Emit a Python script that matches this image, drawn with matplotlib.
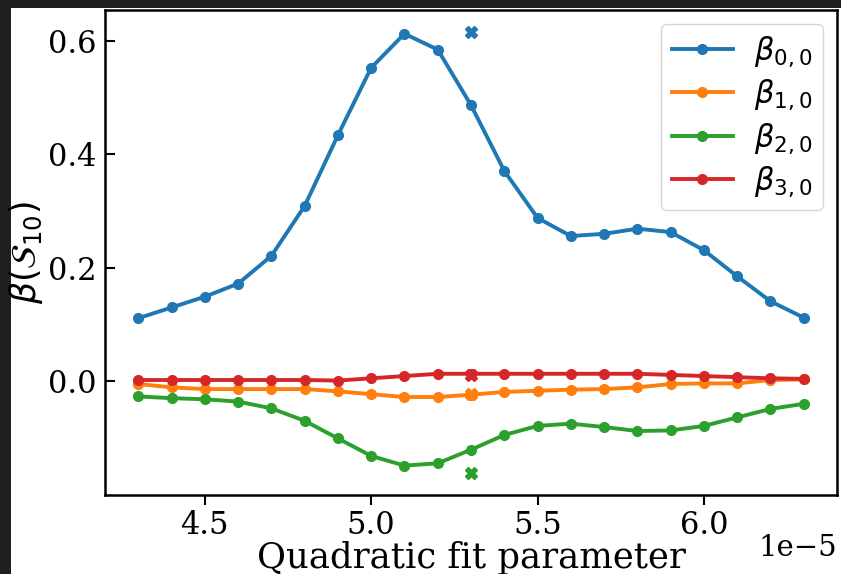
import matplotlib
matplotlib.use("Agg")
import matplotlib.pyplot as plt
from matplotlib.patches import Rectangle

x = [4.3, 4.4, 4.5, 4.6, 4.7, 4.8, 4.9, 5.0, 5.1, 5.2, 5.3,
     5.4, 5.5, 5.6, 5.7, 5.8, 5.9, 6.0, 6.1, 6.2, 6.3]
beta00 = [0.111, 0.130, 0.149, 0.172, 0.221, 0.309, 0.434, 0.553, 0.613, 0.585, 0.487,
          0.371, 0.288, 0.256, 0.260, 0.269, 0.263, 0.231, 0.185, 0.141, 0.112]
beta10 = [-0.005, -0.011, -0.014, -0.014, -0.014, -0.014, -0.018, -0.023, -0.028, -0.028, -0.024,
          -0.019, -0.017, -0.015, -0.014, -0.011, -0.005, -0.004, -0.004, 0.002, 0.003]
beta20 = [-0.027, -0.030, -0.032, -0.036, -0.048, -0.070, -0.101, -0.132, -0.149, -0.145, -0.121,
          -0.095, -0.079, -0.075, -0.081, -0.088, -0.087, -0.079, -0.064, -0.049, -0.040]
beta30 = [0.002, 0.002, 0.002, 0.002, 0.002, 0.002, 0.001, 0.005, 0.009, 0.013, 0.013,
          0.013, 0.013, 0.013, 0.013, 0.013, 0.011, 0.009, 0.007, 0.005, 0.004]
labels = [r'$\beta_{0,0}$', r'$\beta_{1,0}$', r'$\beta_{2,0}$', r'$\beta_{3,0}$']
true_x = 5.3
true_vals = [0.616, -0.023, -0.162, 0.011]
colors = ['#1f77b4', '#ff7f0e', '#2ca02c', '#d62728']

plt.rcParams['font.family'] = 'DejaVu Serif'
plt.rcParams['mathtext.fontset'] = 'dejavusans'

W, H = 841, 574
fig = plt.figure(figsize=(W / 100, H / 100), dpi=100, facecolor='#1f1f1f')
bg = Rectangle((11 / W, 0), (W - 11) / W, (H - 8) / H,
               transform=fig.transFigure, facecolor='white',
               edgecolor='none', zorder=-10)
fig.patches.append(bg)
ax = fig.add_axes([105 / W, 1 - 495 / H, (837 - 105) / W, (495 - 10) / H])
ax.set_zorder(1)

series = [beta00, beta10, beta20, beta30]
for s, lab, c in zip(series, labels, colors):
    ax.plot(x, s, '-o', color=c, lw=2.8, ms=7, label=lab)
for tv, c in zip(true_vals, colors):
    ax.plot([true_x], [tv], 'X', color=c, ms=8)

ax.set_yticks([0.0, 0.2, 0.4, 0.6])
ax.set_xticks([4.5, 5.0, 5.5, 6.0])
ax.set_xticklabels(['4.5', '5.0', '5.5', '6.0'])
ax.tick_params(axis='both', labelsize=22)
ax.tick_params(axis='y', direction='in', length=7, width=1.5, pad=6)
ax.tick_params(axis='x', direction='out', length=7, width=1.5, pad=4)
for sp in ax.spines.values():
    sp.set_linewidth(1.8)
ax.set_xlabel('Quadratic fit parameter', fontsize=25.5, labelpad=0)
ax.set_ylabel(r'$\beta(\mathcal{S}_{10})$', fontsize=25, labelpad=2)
ax.text(1.0, -0.08, '1e\u22125', transform=ax.transAxes, ha='right', va='top', fontsize=21)
ax.legend(loc='upper right', fontsize=22, handlelength=2.0, borderaxespad=0.45,
          labelspacing=0.3, borderpad=0.35, handletextpad=0.7)

fig.savefig('out.png', dpi=100, facecolor=fig.get_facecolor())
